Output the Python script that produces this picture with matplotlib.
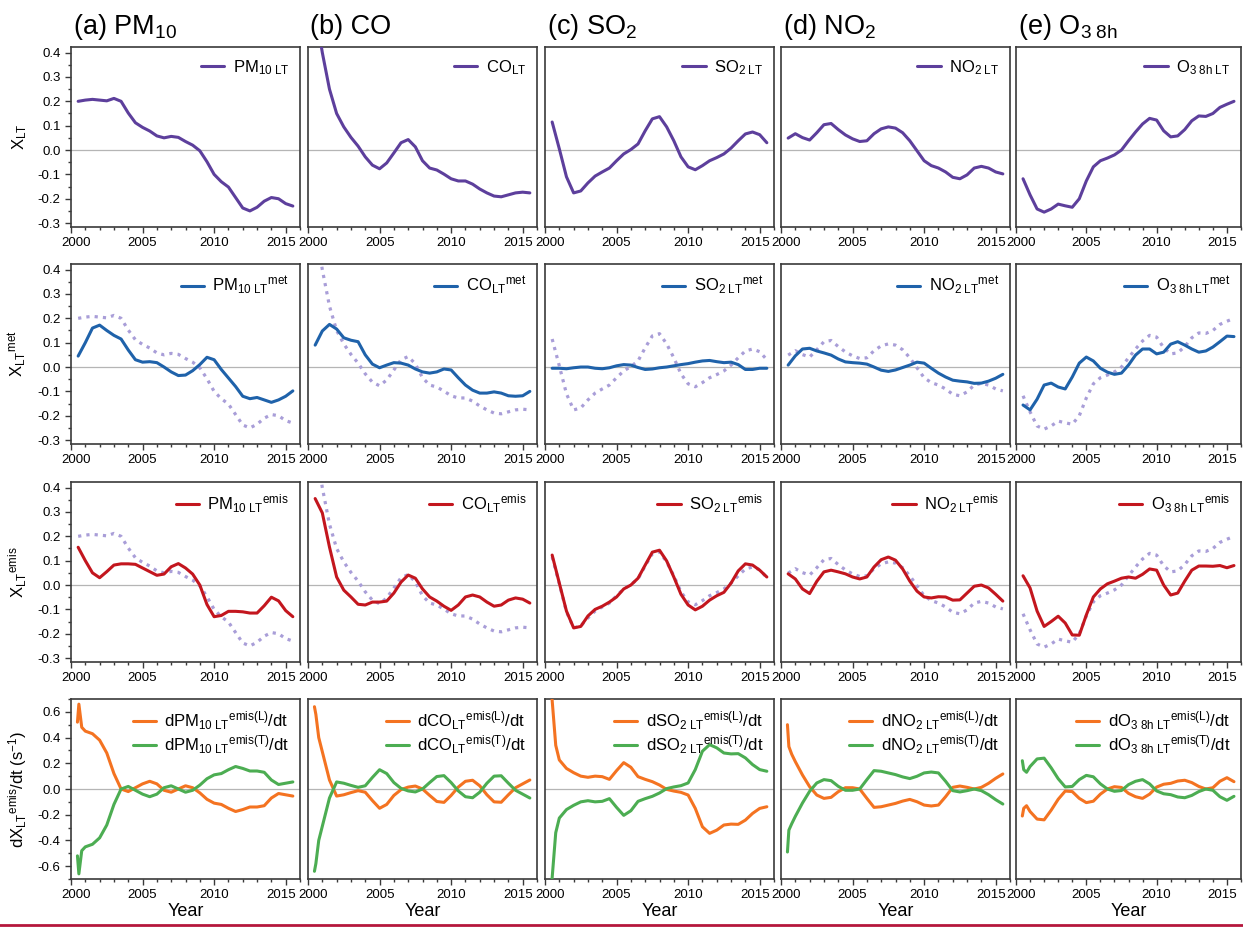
import numpy as np
import matplotlib.pyplot as plt
import matplotlib.transforms as mtransforms
from matplotlib.lines import Line2D
from matplotlib.ticker import MultipleLocator, FormatStrFormatter

plt.rcParams['font.family'] = ['Liberation Sans', 'DejaVu Sans']
plt.rcParams['mathtext.fontset'] = 'custom'
plt.rcParams['mathtext.rm'] = 'Liberation Sans'
plt.rcParams['mathtext.it'] = 'Liberation Sans:italic'
plt.rcParams['mathtext.bf'] = 'Liberation Sans:bold'

# half-yearly samples of the smoothed long-term components
years = np.arange(2000.5, 2015.51, 0.5)
# tendency series: a few extra samples near the start of the record
years_d = np.concatenate([[2000.45, 2000.55, 2000.75], np.arange(2001.0, 2015.51, 0.5)])

# --- long-term component X_LT ---
pm10_lt = [0.200, 0.205, 0.208, 0.205, 0.202, 0.212, 0.200, 0.152, 0.112, 0.093,
           0.078, 0.058, 0.050, 0.056, 0.052, 0.035, 0.020, -0.003, -0.048, -0.100,
           -0.130, -0.152, -0.195, -0.238, -0.250, -0.235, -0.210, -0.195, -0.200, -0.220,
           -0.230]
co_lt = [0.580, 0.400, 0.250, 0.150, 0.095, 0.052, 0.016, -0.028, -0.062, -0.077,
         -0.053, -0.012, 0.030, 0.043, 0.013, -0.044, -0.074, -0.082, -0.099, -0.118,
         -0.127, -0.127, -0.140, -0.160, -0.176, -0.189, -0.192, -0.184, -0.176, -0.173,
         -0.176]
so2_lt = [0.115, 0.005, -0.110, -0.176, -0.168, -0.135, -0.107, -0.090, -0.074, -0.044,
          -0.016, 0.002, 0.025, 0.079, 0.128, 0.137, 0.095, 0.038, -0.028, -0.069,
          -0.081, -0.064, -0.044, -0.031, -0.016, 0.008, 0.038, 0.066, 0.074, 0.063,
          0.030]
no2_lt = [0.049, 0.067, 0.051, 0.041, 0.071, 0.104, 0.109, 0.084, 0.062, 0.046,
          0.035, 0.038, 0.067, 0.087, 0.095, 0.090, 0.071, 0.038, -0.003, -0.044,
          -0.064, -0.074, -0.090, -0.112, -0.118, -0.102, -0.074, -0.067, -0.074, -0.090,
          -0.098]
o3_lt = [-0.118, -0.184, -0.242, -0.255, -0.242, -0.222, -0.229, -0.235, -0.200, -0.127,
         -0.069, -0.044, -0.033, -0.020, 0.000, 0.038, 0.074, 0.107, 0.130, 0.123,
         0.079, 0.054, 0.058, 0.084, 0.120, 0.140, 0.138, 0.150, 0.175, 0.188,
         0.200]

# --- meteorology-driven part X_LT^met ---
pm10_met = [0.045, 0.100, 0.160, 0.172, 0.150, 0.130, 0.115, 0.070, 0.030, 0.020,
            0.022, 0.018, 0.000, -0.020, -0.035, -0.033, -0.015, 0.010, 0.040, 0.030,
            -0.010, -0.045, -0.080, -0.120, -0.130, -0.125, -0.135, -0.145, -0.135, -0.120,
            -0.098]
co_met = [0.090, 0.148, 0.175, 0.156, 0.120, 0.110, 0.104, 0.050, 0.012, -0.003,
          0.008, 0.018, 0.016, 0.008, -0.008, -0.020, -0.025, -0.020, -0.008, -0.012,
          -0.044, -0.074, -0.095, -0.107, -0.107, -0.102, -0.107, -0.118, -0.120, -0.118,
          -0.100]
so2_met = [-0.005, -0.005, -0.007, -0.003, 0.000, 0.000, -0.005, -0.007, -0.003, 0.005,
           0.010, 0.008, -0.002, -0.010, -0.008, -0.003, 0.000, 0.005, 0.010, 0.014,
           0.020, 0.025, 0.027, 0.022, 0.018, 0.020, 0.010, -0.010, -0.010, -0.005,
           -0.005]
no2_met = [0.008, 0.046, 0.074, 0.077, 0.066, 0.058, 0.049, 0.033, 0.021, 0.018,
           0.016, 0.012, 0.000, -0.013, -0.018, -0.012, -0.002, 0.008, 0.020, 0.016,
           -0.005, -0.025, -0.041, -0.054, -0.058, -0.061, -0.067, -0.066, -0.058, -0.046,
           -0.030]
o3_met = [-0.156, -0.176, -0.132, -0.074, -0.066, -0.082, -0.090, -0.041, 0.016, 0.041,
          0.025, -0.005, -0.021, -0.030, -0.025, 0.008, 0.049, 0.074, 0.074, 0.054,
          0.061, 0.094, 0.104, 0.090, 0.074, 0.061, 0.066, 0.082, 0.104, 0.127,
          0.125]

# --- emission-driven part X_LT^emis ---
pm10_emis = [0.155, 0.100, 0.050, 0.030, 0.055, 0.082, 0.087, 0.087, 0.085, 0.070,
             0.055, 0.040, 0.045, 0.075, 0.088, 0.070, 0.045, 0.000, -0.080, -0.130,
             -0.125, -0.108, -0.108, -0.110, -0.115, -0.115, -0.085, -0.050, -0.065, -0.105,
             -0.130]
co_emis = [0.355, 0.296, 0.156, 0.033, -0.021, -0.049, -0.079, -0.082, -0.070, -0.070,
           -0.066, -0.033, 0.012, 0.041, 0.028, -0.016, -0.049, -0.066, -0.087, -0.104,
           -0.082, -0.049, -0.041, -0.049, -0.070, -0.087, -0.082, -0.062, -0.053, -0.058,
           -0.074]
so2_emis = [0.123, 0.008, -0.107, -0.176, -0.170, -0.127, -0.100, -0.087, -0.070, -0.049,
            -0.016, 0.000, 0.028, 0.082, 0.135, 0.143, 0.099, 0.033, -0.038, -0.082,
            -0.102, -0.087, -0.062, -0.044, -0.030, 0.008, 0.058, 0.087, 0.082, 0.061,
            0.033]
no2_emis = [0.046, 0.025, -0.016, -0.035, 0.015, 0.054, 0.061, 0.054, 0.046, 0.033,
            0.025, 0.033, 0.074, 0.104, 0.115, 0.102, 0.066, 0.016, -0.025, -0.049,
            -0.053, -0.048, -0.049, -0.062, -0.061, -0.033, -0.005, 0.000, -0.012, -0.038,
            -0.066]
o3_emis = [0.038, -0.012, -0.107, -0.170, -0.150, -0.128, -0.156, -0.205, -0.206, -0.123,
           -0.049, -0.016, 0.005, 0.016, 0.028, 0.033, 0.028, 0.044, 0.066, 0.061,
           0.000, -0.041, -0.033, 0.016, 0.061, 0.078, 0.078, 0.077, 0.080, 0.071,
           0.080]

# --- tendencies from emission level (L) and emission trend (T) ---
pm10_dl = [0.52, 0.66, 0.48, 0.45, 0.43, 0.38, 0.28, 0.12, 0.00, -0.02, 0.01,
           0.04, 0.06, 0.04, -0.01, -0.025, 0.00, 0.025, 0.01, -0.03, -0.08, -0.11,
           -0.12, -0.15, -0.175, -0.16, -0.14, -0.14, -0.13, -0.07, -0.035, -0.045, -0.055]
pm10_dt = [-0.52, -0.66, -0.48, -0.45, -0.43, -0.38, -0.28, -0.12, 0.00, 0.02, -0.01,
           -0.04, -0.06, -0.04, 0.01, 0.025, 0.00, -0.025, -0.01, 0.03, 0.08, 0.11,
           0.12, 0.15, 0.175, 0.16, 0.14, 0.14, 0.13, 0.07, 0.035, 0.045, 0.055]
co_dl = [0.64, 0.58, 0.40, 0.29, 0.07, -0.055, -0.045, -0.028, -0.013, -0.025, -0.09,
         -0.15, -0.12, -0.05, -0.005, 0.015, 0.023, 0.00, -0.05, -0.097, -0.104, -0.05,
         0.015, 0.06, 0.068, 0.025, -0.045, -0.10, -0.103, -0.045, 0.01, 0.04, 0.07]
co_dt = [-0.64, -0.58, -0.40, -0.29, -0.07, 0.055, 0.045, 0.028, 0.013, 0.025, 0.09,
         0.15, 0.12, 0.05, 0.005, -0.015, -0.023, 0.00, 0.05, 0.097, 0.104, 0.05,
         -0.015, -0.06, -0.068, -0.025, 0.045, 0.10, 0.103, 0.045, -0.01, -0.04, -0.07]
so2_dl = [0.76, 0.62, 0.34, 0.226, 0.16, 0.127, 0.10, 0.091, 0.10, 0.096, 0.075,
          0.143, 0.205, 0.169, 0.096, 0.075, 0.057, 0.031, -0.003, -0.016, -0.026, -0.047,
          -0.151, -0.294, -0.345, -0.32, -0.28, -0.273, -0.275, -0.242, -0.19, -0.151, -0.138]
so2_dt = [-0.76, -0.62, -0.34, -0.226, -0.16, -0.127, -0.10, -0.091, -0.10, -0.096, -0.075,
          -0.143, -0.205, -0.169, -0.096, -0.075, -0.057, -0.031, 0.003, 0.016, 0.026, 0.047,
          0.151, 0.294, 0.345, 0.32, 0.28, 0.273, 0.275, 0.242, 0.19, 0.151, 0.138]
no2_dl = [0.50, 0.33, 0.27, 0.213, 0.109, 0.018, -0.047, -0.073, -0.065, -0.021, 0.01,
          0.01, 0.0, -0.073, -0.143, -0.138, -0.125, -0.112, -0.094, -0.081, -0.099, -0.125,
          -0.132, -0.125, -0.06, 0.013, 0.023, 0.013, 0.0, 0.013, 0.044, 0.083, 0.117]
no2_dt = [-0.49, -0.32, -0.27, -0.213, -0.109, -0.018, 0.047, 0.073, 0.065, 0.021, -0.01,
          -0.01, 0.0, 0.073, 0.143, 0.138, 0.125, 0.112, 0.094, 0.081, 0.099, 0.125,
          0.132, 0.125, 0.06, -0.013, -0.023, -0.013, 0.0, -0.013, -0.044, -0.083, -0.117]
o3_dl = [-0.21, -0.15, -0.13, -0.175, -0.234, -0.24, -0.165, -0.08, -0.016, -0.02, -0.073,
         -0.106, -0.095, -0.04, 0.0, 0.018, 0.012, -0.034, -0.06, -0.073, -0.04, 0.015,
         0.037, 0.044, 0.062, 0.068, 0.05, 0.02, 0.0, 0.01, 0.06, 0.088, 0.057]
o3_dt = [0.22, 0.15, 0.13, 0.175, 0.234, 0.24, 0.165, 0.08, 0.016, 0.02, 0.073,
         0.106, 0.095, 0.04, 0.0, -0.018, -0.012, 0.034, 0.06, 0.073, 0.04, -0.015,
         -0.037, -0.044, -0.062, -0.068, -0.05, -0.02, 0.0, -0.01, -0.06, -0.088, -0.057]

titles = ['(a) PM$_{10}$', '(b) CO', '(c) SO$_2$', '(d) NO$_2$', r'(e) O$_{\mathrm{3\ 8h}}$']
names = ['PM', 'CO', 'SO', 'NO', 'O']
subs = [r'10\ LT', 'LT', r'2\ LT', r'2\ LT', r'3\ 8h\ LT']

lt_series = [pm10_lt, co_lt, so2_lt, no2_lt, o3_lt]
met_series = [pm10_met, co_met, so2_met, no2_met, o3_met]
emis_series = [pm10_emis, co_emis, so2_emis, no2_emis, o3_emis]
dl_series = [pm10_dl, co_dl, so2_dl, no2_dl, o3_dl]
dt_series = [pm10_dt, co_dt, so2_dt, no2_dt, o3_dt]

row_ylabels = [r'X$_{\mathrm{LT}}$', r'X$_{\mathrm{LT}}{}^{\mathrm{met}}$',
               r'X$_{\mathrm{LT}}{}^{\mathrm{emis}}$',
               r'dX$_{\mathrm{LT}}{}^{\mathrm{emis}}$/dt (s$^{\mathrm{-1}}$)']

c_lt = '#5d3f9c'
c_met = '#1f62aa'
c_emis = '#c3161e'
c_dl = '#f47321'
c_dt = '#4cad52'
c_dot = '#a99ed8'
c_spine = '#3a3a3a'

W, H = 1243, 927
col_left = [71, 308, 545, 781, 1016]
col_width = [229, 229, 229, 229, 225]
row_top = [47, 264, 482, 699]
panel_h = 180

fig = plt.figure(figsize=(W / 100, H / 100), dpi=100)

for r in range(4):
    for c in range(5):
        ax = fig.add_axes([col_left[c] / W, 1 - (row_top[r] + panel_h) / H,
                           col_width[c] / W, panel_h / H])
        ax.axhline(0, color='#b5b5b5', lw=0.9, zorder=1)
        lab = names[c] + r'$_{\mathrm{' + subs[c] + '}}'
        line_kw = dict(lw=2.2, solid_joinstyle='round', solid_capstyle='round', zorder=3)
        if r == 0:
            ax.plot(years, lt_series[c], color=c_lt, label=lab + '$', **line_kw)
        elif r in (1, 2):
            ax.plot(years, lt_series[c], color=c_dot, lw=2.3,
                    linestyle=(0, (1, 1.6)), zorder=2)
            if r == 1:
                ax.plot(years, met_series[c], color=c_met,
                        label=lab + r'{}^{\mathrm{met}}$', **line_kw)
            else:
                ax.plot(years, emis_series[c], color=c_emis,
                        label=lab + r'{}^{\mathrm{emis}}$', **line_kw)
        else:
            ax.plot(years_d, dl_series[c], color=c_dl,
                    label='d' + lab + r'{}^{\mathrm{emis(L)}}$/dt', **line_kw)
            ax.plot(years_d, dt_series[c], color=c_dt,
                    label='d' + lab + r'{}^{\mathrm{emis(T)}}$/dt', **line_kw)

        ax.set_xlim(2000, 2016)
        if r < 3:
            ax.set_ylim(-0.316, 0.423)
            ax.yaxis.set_major_locator(MultipleLocator(0.1))
            ax.yaxis.set_minor_locator(MultipleLocator(0.05))
        else:
            ax.set_ylim(-0.70, 0.70)
            ax.yaxis.set_major_locator(MultipleLocator(0.2))
            ax.yaxis.set_minor_locator(MultipleLocator(0.1))
        ax.yaxis.set_major_formatter(FormatStrFormatter('%.1f'))
        ax.xaxis.set_major_locator(MultipleLocator(5))
        ax.xaxis.set_minor_locator(MultipleLocator(1))

        for sp in ax.spines.values():
            sp.set_color(c_spine)
            sp.set_linewidth(1.2)
        ax.tick_params(which='both', direction='out', colors=c_spine,
                       labelcolor='black', labelsize=9.5, width=1.0,
                       top=False, right=False)
        ax.tick_params(which='major', length=4.5, pad=3)
        ax.tick_params(which='minor', length=2.5)
        if c > 0:
            ax.tick_params(axis='y', which='both', left=False, labelleft=False)
        else:
            ax.set_ylabel(row_ylabels[r], fontsize=12, labelpad=6)

        # pull the end year labels inward so neighbouring panels do not collide
        locs = ax.xaxis.get_majorticklocs()
        for loc, tk in zip(locs, ax.xaxis.get_major_ticks(len(locs))):
            dx = 0.05 if loc <= 2000 else (-0.05 if loc >= 2015 else 0.0)
            if dx:
                tk.label1.set_transform(tk.label1.get_transform() +
                                        mtransforms.ScaledTranslation(dx, 0, fig.dpi_scale_trans))

        if r == 0:
            ax.text(0.01, 1.07, titles[c], transform=ax.transAxes,
                    fontsize=19.5, va='baseline', ha='left')
        if r == 3:
            ax.set_xlabel('Year', fontsize=13, labelpad=1)

        ax.legend(loc='upper right', frameon=False, fontsize=12,
                  handlelength=1.4, handletextpad=0.5, borderaxespad=0.35,
                  labelspacing=0.05, borderpad=0.3)

# thin rule along the bottom edge
fig.add_artist(Line2D([0, 1], [0.002, 0.002], color='#b5173c', lw=2.0,
                      transform=fig.transFigure))

fig.savefig('out.png', dpi=100)
